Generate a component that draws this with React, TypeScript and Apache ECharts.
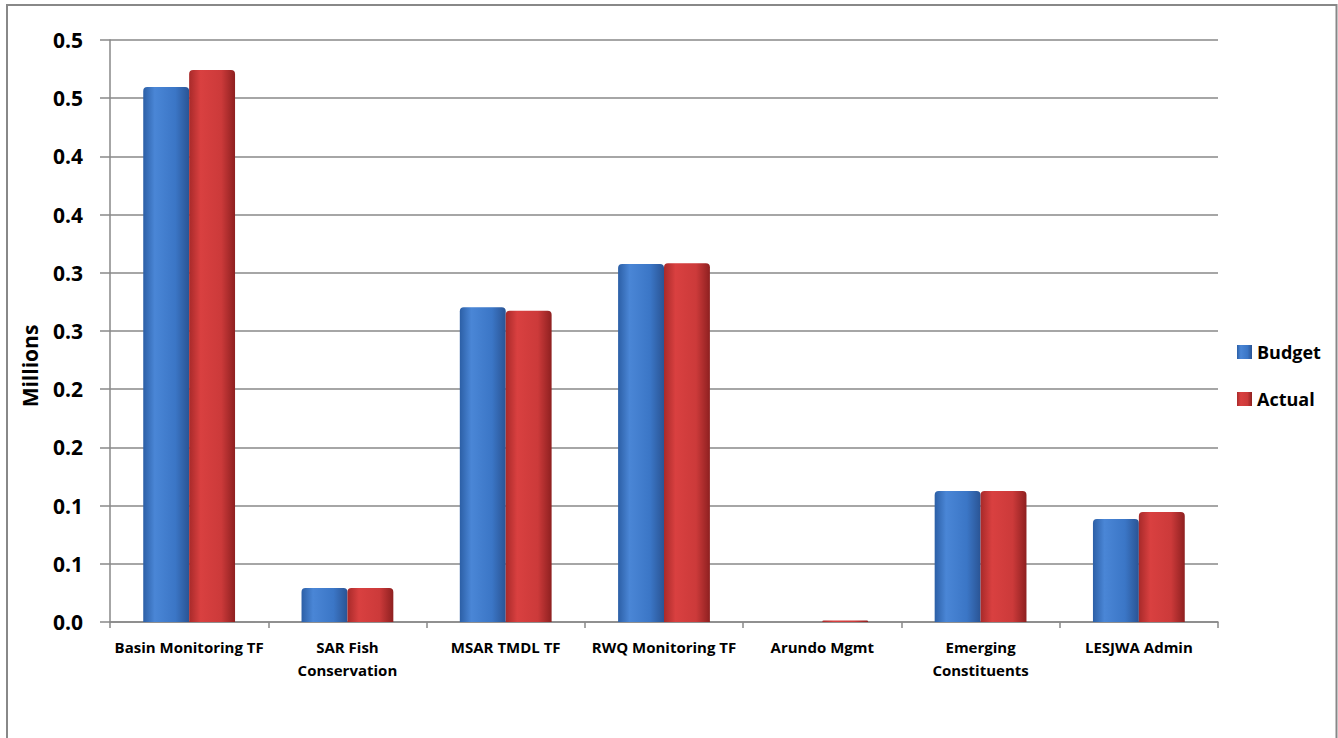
import React, { useEffect, useRef } from "react";
import * as echarts from "echarts";

const categories = [
  "Basin Monitoring TF",
  "SAR Fish\nConservation",
  "MSAR TMDL TF",
  "RWQ Monitoring TF",
  "Arundo Mgmt",
  "Emerging\nConstituents",
  "LESJWA Admin",
];
const budget = [0.4596, 0.0292, 0.2704, 0.3076, 0, 0.1125, 0.0885];
const actual = [0.4742, 0.0292, 0.2674, 0.3082, 0.0012, 0.1125, 0.0945];
const tickLabels = ["0.0", "0.1", "0.1", "0.2", "0.2", "0.3", "0.3", "0.4", "0.4", "0.5", "0.5"];

const FONT = "'Open Sans', Lato, sans-serif";

export default function App() {
  const ref = useRef<HTMLDivElement>(null);
  useEffect(() => {
    if (!ref.current) return;
    const chart = echarts.init(ref.current, undefined, { renderer: "svg" });
    const blue = new echarts.graphic.LinearGradient(0, 0, 1, 0, [
      { offset: 0, color: "#2c5fa6" },
      { offset: 0.25, color: "#4a86d6" },
      { offset: 0.7, color: "#3b76c6" },
      { offset: 1, color: "#2a5494" },
    ]);
    const red = new echarts.graphic.LinearGradient(0, 0, 1, 0, [
      { offset: 0, color: "#a82a2a" },
      { offset: 0.25, color: "#d94040" },
      { offset: 0.7, color: "#cc3a3a" },
      { offset: 1, color: "#8e2020" },
    ]);
    chart.setOption({
      animation: false,
      backgroundColor: "#ffffff",
      grid: { left: 110, right: 120, top: 40, bottom: 116 },
      legend: {
        orient: "vertical",
        left: 1232,
        top: 338,
        itemWidth: 15,
        itemHeight: 14,
        itemGap: 29,
        icon: "rect",
        textStyle: { fontFamily: FONT, fontWeight: "bold", fontSize: 18, color: "#000" },
        data: ["Budget", "Actual"],
      },
      xAxis: {
        type: "category",
        data: categories,
        axisLine: { lineStyle: { color: "#888", width: 1.5 } },
        axisTick: { show: true, length: 6, lineStyle: { color: "#888", width: 1.5 } },
        axisLabel: {
          interval: 0,
          margin: 13,
          fontFamily: FONT,
          fontWeight: "bold",
          fontSize: 15,
          lineHeight: 23,
          color: "#000",
        },
      },
      yAxis: {
        type: "value",
        min: 0,
        max: 0.5,
        interval: 0.05,
        axisLine: { show: true, lineStyle: { color: "#888", width: 1.5 } },
        axisTick: { show: true, length: 10, lineStyle: { color: "#888", width: 1.5 } },
        splitLine: { lineStyle: { color: "#888", width: 1.5 } },
        axisLabel: {
          margin: 27,
          fontFamily: FONT,
          fontWeight: "bold",
          fontSize: 21,
          color: "#000",
          formatter: (v: number) => tickLabels[Math.round(v / 0.05)] ?? "",
        },
      },
      series: [
        {
          name: "Budget",
          type: "bar",
          data: budget,
          barGap: "0%",
          barCategoryGap: "42%",
          itemStyle: { color: blue, borderRadius: [4, 4, 0, 0] },
        },
        {
          name: "Actual",
          type: "bar",
          data: actual,
          barGap: "0%",
          barCategoryGap: "42%",
          itemStyle: { color: red, borderRadius: [4, 4, 0, 0] },
        },
      ],
      graphic: [
        {
          type: "rect",
          shape: { x: 7, y: 5, width: 1329.5, height: 800 },
          style: { fill: "none", stroke: "#888", lineWidth: 2 },
          silent: true,
        },
        {
          type: "text",
          x: 30,
          y: 366,
          rotation: Math.PI / 2,
          style: {
            text: "Millions",
            fontFamily: FONT,
            fontWeight: "bold",
            fontSize: 21,
            fill: "#000",
            align: "center",
            verticalAlign: "middle",
          },
        },
      ],
    });
    return () => chart.dispose();
  }, []);
  return (
    <div
      ref={ref}
      style={{ position: "absolute", left: 0, top: 0, width: 1338, height: 738 }}
    />
  );
}
